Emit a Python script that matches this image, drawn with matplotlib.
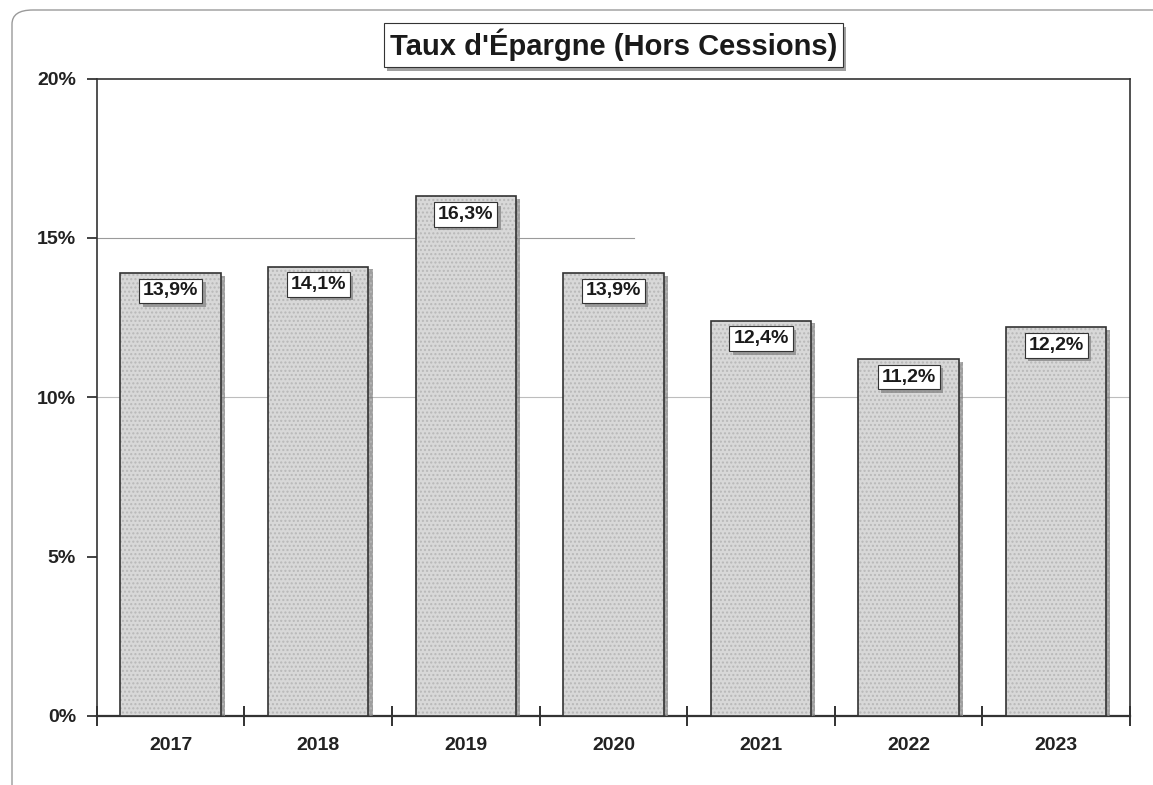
import matplotlib
matplotlib.use("Agg")
import matplotlib.pyplot as plt
import matplotlib.patheffects as pe
from matplotlib.patches import FancyBboxPatch
from matplotlib.ticker import FuncFormatter

plt.rcParams['font.family'] = ['Liberation Sans', 'DejaVu Sans']

years = ["2017", "2018", "2019", "2020", "2021", "2022", "2023"]
taux = [13.9, 14.1, 16.3, 13.9, 12.4, 11.2, 12.2]
labels = ["13,9%", "14,1%", "16,3%", "13,9%", "12,4%", "11,2%", "12,2%"]
title = "Taux d'Épargne (Hors Cessions)"


def boxed_text(ax, x, y, txt, dy, size, xycoords='data'):
    # white box with a grey drop shadow under it
    t = ax.annotate(txt, (x, y), xycoords=xycoords, xytext=(0, dy), textcoords='offset points',
                    ha='center', va='center', fontsize=size, fontweight='bold', color='#1a1a1a',
                    bbox=dict(boxstyle='square,pad=0.2', fc='white', ec='#333333', lw=0.8),
                    zorder=6, annotation_clip=False)
    t.get_bbox_patch().set_path_effects([
        pe.SimplePatchShadow(offset=(2.5, -2.5), shadow_rgbFace='#8a8a8a', alpha=0.8),
        pe.Normal()])
    return t


fig = plt.figure(figsize=(11.53, 7.85), dpi=100)
ax = fig.add_axes([0.084, 0.088, 0.896, 0.812])

xs = list(range(len(years)))
bars = ax.bar(xs, taux, width=0.68, color='#d8d8d8', edgecolor='#b8b8b8', hatch='....',
              linewidth=0, zorder=3)
for b in bars:
    b.set_path_effects([pe.SimplePatchShadow(offset=(3, -2), shadow_rgbFace='#777777', alpha=0.7),
                        pe.Normal()])
ax.bar(xs, taux, width=0.68, fill=False, edgecolor='#333333', linewidth=1.2, zorder=4)

for x, v, lab in zip(xs, taux, labels):
    boxed_text(ax, x, v, lab, -13, 14)

ax.axhline(10, color='#bdbdbd', lw=0.8, zorder=1)
ax.axhline(15, xmax=0.52, color='#9a9a9a', lw=0.8, zorder=1)

ax.set_xlim(-0.5, len(years) - 0.5)
ax.set_ylim(0, 20)
ax.set_yticks([0, 5, 10, 15, 20])
ax.yaxis.set_major_formatter(FuncFormatter(lambda v, p: f"{v:.0f}%"))
ax.set_xticks([i - 0.5 for i in range(len(years) + 1)])
ax.set_xticklabels([])
ax.set_xticks(xs, minor=True)
ax.set_xticklabels(years, minor=True)
ax.tick_params(axis='x', which='major', direction='inout', length=14, width=1.3, color='#222222')
ax.tick_params(axis='x', which='minor', length=0, pad=15, labelsize=14, labelcolor='#222222')
ax.tick_params(axis='y', direction='out', length=7, width=1.2, labelsize=14, pad=8,
               labelcolor='#222222', color='#222222')
for t in ax.get_xticklabels(minor=True) + ax.get_yticklabels():
    t.set_fontweight('bold')
for s in ax.spines.values():
    s.set_color('#333333')
    s.set_linewidth(1.2)
ax.spines['bottom'].set_linewidth(1.6)

boxed_text(ax, 0.5, 1.0, title, 24, 21, xycoords='axes fraction')

frame = FancyBboxPatch((12 / 1153, -20 / 785), 1170 / 1153, 795 / 785,
                       boxstyle='round,pad=0,rounding_size=0.018', transform=fig.transFigure,
                       fill=False, ec='#9a9a9a', lw=1.0, clip_on=False)
fig.patches.append(frame)

fig.savefig("out.png", dpi=100)
